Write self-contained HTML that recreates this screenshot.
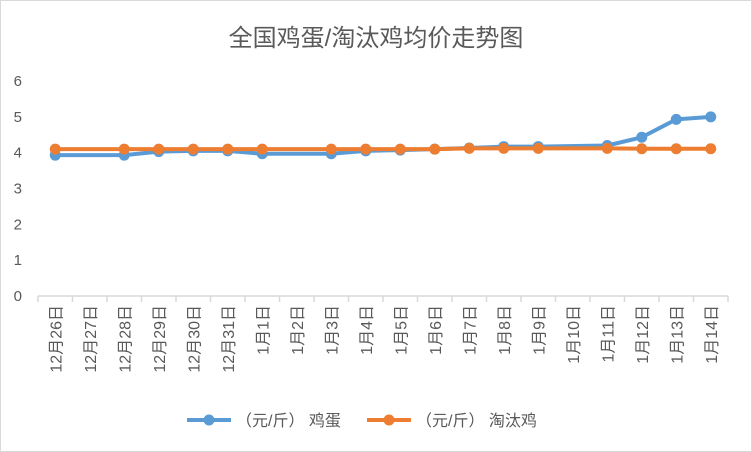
<!DOCTYPE html>
<html><head><meta charset="utf-8"><style>
body{margin:0;background:#fff;}
svg{display:block;font-family:"Liberation Sans","Noto Sans CJK SC",sans-serif;}
</style></head><body>
<svg width="752" height="452">
<rect x="0.5" y="0.5" width="751" height="451" fill="#fff" stroke="#d9d9d9"/>
<text x="376" y="46" font-size="24" fill="#595959" text-anchor="middle">全国鸡蛋/淘汰鸡均价走势图</text>
<g id="grid"></g><g id="axes"></g><g id="series"></g>
<g>
<g>
<line x1="187" y1="420" x2="231" y2="420" stroke="#5b9bd5" stroke-width="4"/>
<circle cx="209" cy="420" r="5.5" fill="#5b9bd5"/>
<text x="236" y="426" font-size="16" fill="#595959">（元/斤） 鸡蛋</text></g>
<g>
<line x1="367" y1="420" x2="411" y2="420" stroke="#ed7d31" stroke-width="4"/>
<circle cx="389" cy="420" r="5.5" fill="#ed7d31"/>
<text x="416" y="426" font-size="16" fill="#595959">（元/斤） 淘汰鸡</text></g>
</g>
</svg>
<script>
const categories=["12月26日","12月27日","12月28日","12月29日","12月30日","12月31日","1月1日","1月2日","1月3日","1月4日","1月5日","1月6日","1月7日","1月8日","1月9日","1月10日","1月11日","1月12日","1月13日","1月14日"];
const eggValues=[3.93,null,3.93,4.03,4.05,4.05,3.97,null,3.97,4.05,4.07,4.1,4.13,4.17,4.17,null,4.2,4.43,4.93,5.0];
const chickenValues=[4.1,null,4.1,4.1,4.1,4.1,4.1,null,4.1,4.1,4.1,4.1,4.12,4.12,4.12,null,4.12,4.11,4.11,4.11];
const yTicks=[0,1,2,3,4,5,6];
const NS="http://www.w3.org/2000/svg";
const L=38,R=728,T=81,B=296,yMax=6;
const bw=(R-L)/categories.length;
const x=i=>L+bw*(i+0.5);
const y=v=>B-(v/yMax)*(B-T);
function mk(t,a,p){const e=document.createElementNS(NS,t);for(const k in a)e.setAttribute(k,a[k]);p.appendChild(e);return e;}
const axes=document.getElementById('axes'),ser=document.getElementById('series');
yTicks.forEach(v=>{
 const t=mk('text',{x:22,y:y(v)+5,'font-size':15,fill:'#595959','text-anchor':'end'},axes);
 t.textContent=v;
 
 
});
const ax=mk('line',{x1:L,x2:R,y1:B,y2:B,stroke:'#d9d9d9','stroke-width':1.5},axes);


for(let i=0;i<=categories.length;i++){
 const tk=mk('line',{x1:L+bw*i,x2:L+bw*i,y1:B,y2:B+6,stroke:'#d9d9d9','stroke-width':1.5},axes);
 
 
}
categories.forEach((c,i)=>{
 const t=mk('text',{transform:`translate(${x(i)+6},${B+9}) rotate(-90)`,'font-size':16,fill:'#595959','text-anchor':'end'},axes);
 t.textContent=c;
 
 
});
function draw(vals,color,name){
 const pts=[];vals.forEach((v,i)=>{if(v!=null)pts.push([x(i),y(v)]);});
 const p=mk('polyline',{points:pts.map(p=>p.join(',')).join(' '),fill:'none',stroke:color,'stroke-width':4,'stroke-linejoin':'round'},ser);
 
 
 pts.forEach(q=>{const c=mk('circle',{cx:q[0],cy:q[1],r:5.5,fill:color},ser);
 
 });
}
draw(eggValues,'#5b9bd5','egg');
draw(chickenValues,'#ed7d31','chicken');
</script>
</body></html>
